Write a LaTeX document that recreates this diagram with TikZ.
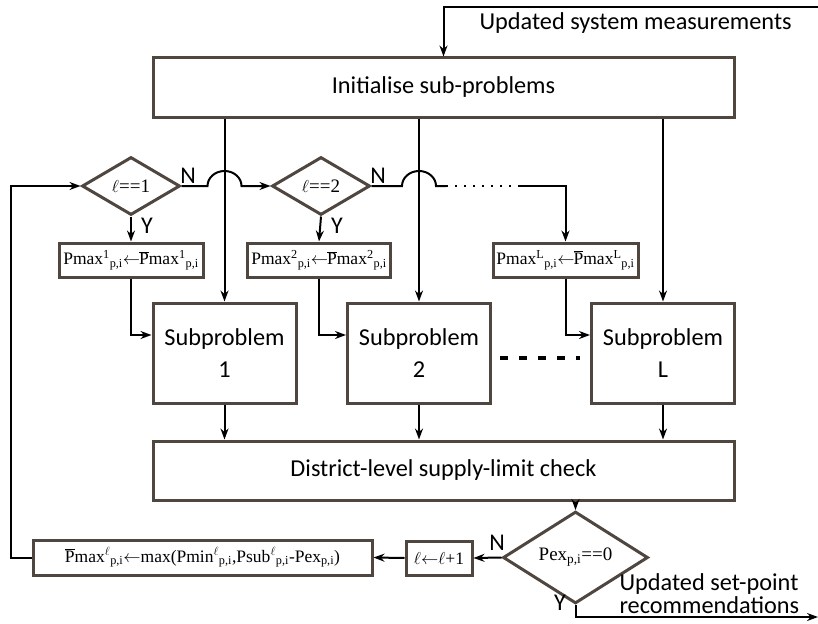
\documentclass[tikz,border=0pt]{standalone}
\usepackage{fontspec}
\setsansfont{Carlito}
\newfontfamily\boxserif{Liberation Serif}
\usetikzlibrary{arrows.meta,shapes.geometric}
\definecolor{boxbrown}{RGB}{80,70,64}

\begin{document}
\begin{tikzpicture}[x=1pt,y=1pt,
                block/.style={draw=boxbrown, line width=3pt, minimum width=581pt, minimum height=59pt, font=\sffamily\fontsize{24.3}{29}\selectfont},
                subblock/.style={draw=boxbrown, line width=3pt, minimum width=143pt, minimum height=100pt, align=center, font=\sffamily\fontsize{24.3}{32}\selectfont},
                setbox/.style={draw=boxbrown, line width=3pt, minimum height=34pt, inner sep=2pt, font=\boxserif\fontsize{17.5}{20}\selectfont},
                decision/.style={diamond, draw=boxbrown, line width=3pt, inner sep=0pt, font=\boxserif\fontsize{19}{22}\selectfont},
                tag/.style={font=\sffamily\fontsize{24}{28}\selectfont},
                note/.style={font=\sffamily\fontsize{24.3}{23}\selectfont, align=left},
                arrow/.style={-{Stealth[length=11pt,width=8pt]}, line width=2pt},
                link/.style={line width=2pt}
            ]
            \useasboundingbox (0,0) rectangle (818,-623);

            \node[block] (init) at (443.5,-87.5) {Initialise sub-problems};

            \node[decision, minimum width=98pt, minimum height=58pt] (test1) at (131,-186) {$\ell$==1};
            \node[decision, minimum width=98pt, minimum height=58pt] (test2) at (321,-186) {$\ell$==2};

            \node[setbox, minimum width=144pt] (set1) at (131,-260) {Pmax\textsuperscript{1}\textsubscript{p,i}${\leftarrow}$\kern-1pt$\overline{\mbox{P}}$max\textsuperscript{1}\textsubscript{p,i}};
            \node[setbox, minimum width=143pt] (set2) at (319,-260) {Pmax\textsuperscript{2}\textsubscript{p,i}${\leftarrow}$\kern-1pt$\overline{\mbox{P}}$max\textsuperscript{2}\textsubscript{p,i}};
            \node[setbox, minimum width=145pt] (setL) at (565.5,-260) {Pmax\textsuperscript{L}\textsubscript{p,i}${\leftarrow}$\kern-1pt$\overline{\mbox{P}}$max\textsuperscript{L}\textsubscript{p,i}};

            \node[subblock] (sub1) at (224.5,-353) {Subproblem\\1};
            \node[subblock] (sub2) at (419,-353) {Subproblem\\2};
            \node[subblock] (subL) at (663,-353) {Subproblem\\L};

            \node[block] (check) at (443.5,-470.5) {District-level supply-limit check};

            \node[decision, minimum width=145pt, minimum height=59pt] (pex) at (575.5,-557.5) {Pex\textsubscript{p,i}==0};
            \node[setbox, minimum width=66pt] (incr) at (439,-558) {$\ell{\leftarrow}\ell$+1};
            \node[setbox, minimum width=339pt, minimum height=35pt] (update) at (202.5,-557.5) {$\overline{\mbox{P}}$max\textsuperscript{$\ell$}\textsubscript{p,i}${\leftarrow}$max(Pmin\textsuperscript{$\ell$}\textsubscript{p,i},Psub\textsuperscript{$\ell$}\textsubscript{p,i}-Pex\textsubscript{p,i})};

            % labels
            \node[note, anchor=west] (meas) at (476,-23) {Updated system measurements};
            \node[note, anchor=west] (recs) at (616,-594) {Updated set-point\\recommendations};
            \node[tag] (no1) at (188,-176) {N};
            \node[tag] (no2) at (378,-176) {N};
            \node[tag] (yes1) at (147,-226) {Y};
            \node[tag] (yes2) at (337,-226) {Y};
            \node[tag] (no3) at (497,-543) {N};
            \node[tag] (yes3) at (560,-603) {Y};

            \coordinate (inp) at (818,-7);
            \coordinate (outp) at (818,-617);
            \coordinate (dotB) at (520,-186);

            \draw[arrow] (inp) -| (init.north);
            \draw[arrow] (sub1.north |- init.south) -- (sub1.north);
            \draw[arrow] (sub2.north |- init.south) -- (sub2.north);
            \draw[arrow] (subL.north |- init.south) -- (subL.north);

            % N branches hop over the feed lines
            \draw[arrow] (test1.east) -- ([xshift=-17pt]sub1.north |- test1.east) arc[start angle=180, end angle=0, x radius=17pt, y radius=15pt] -- (test2.west);
            \draw[link] (test2.east) -- ([xshift=-17pt]sub2.north |- test2.east) arc[start angle=180, end angle=0, x radius=17pt, y radius=15pt] -- ++(10,0) coordinate (dotA);
            \draw[link, dash pattern=on 1.5pt off 7.5pt] (dotA) -- (dotB);
            \draw[arrow] (dotB) -| (setL.north);

            \draw[arrow] (test1.south) -- (set1.north);
            \draw[arrow] (test2.south) -- (set2.north);
            \draw[arrow] (set1.south) |- ([yshift=18pt]sub1.west);
            \draw[arrow] (set2.south) |- ([yshift=18pt]sub2.west);
            \draw[arrow] (setL.south) |- ([yshift=18pt]subL.west);

            \draw[line width=3.5pt, dash pattern=on 7.5pt off 11.5pt] ([shift={(8pt,-5pt)}]sub2.east) -- ([shift={(-10pt,-5pt)}]subL.west);

            \draw[arrow] (sub1.south) -- (sub1.south |- check.north);
            \draw[arrow] (sub2.south) -- (sub2.south |- check.north);
            \draw[arrow] (subL.south) -- (subL.south |- check.north);

            \draw[arrow] (pex.north |- check.south) -- (pex.north);
            \draw[arrow] (pex.west) -- (incr.east);
            \draw[arrow] (incr.west) -- (update.east);
            \draw[arrow] (update.west) -- ++(-21,0) |- (test1.west);
            \draw[arrow] (pex.south) |- (outp);

        \end{tikzpicture}
\end{document}
